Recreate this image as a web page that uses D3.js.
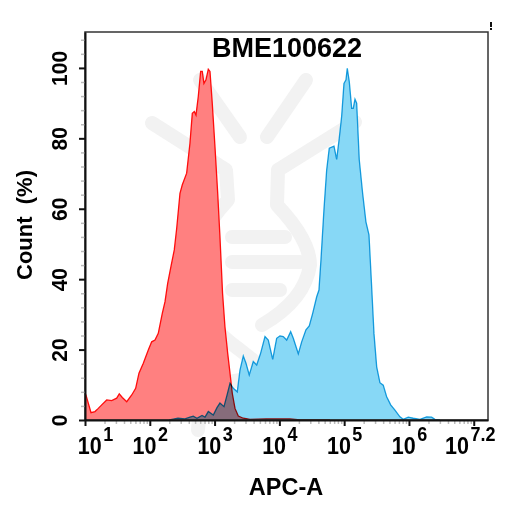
<!DOCTYPE html>
<html>
<head>
<meta charset="utf-8">
<script src="https://cdn.jsdelivr.net/npm/d3@7"></script>
<style>
  html, body { margin: 0; padding: 0; background: #fff; }
  svg { display: block; font-family: "Liberation Sans", Arial, sans-serif; }
</style>
</head>
<body>
<svg id="chart" width="507" height="505"></svg>
<script>
// ---- data (x = log10 of APC-A, y = Count %) ----
const chartTitle = "BME100622";
const xTitle = "APC-A";
const yTitle = "Count  (%)";
const xTickExponents = [1, 2, 3, 4, 5, 6, 7];
const xTickLabels = ["1", "2", "3", "4", "5", "6", "7.2"];
const yTickValues = [0, 20, 40, 60, 80, 100];

const redLogX = [1.0, 1.015, 1.093, 1.154, 1.205, 1.258, 1.335, 1.412, 1.489, 1.529, 1.576, 1.644, 1.721, 1.782,
  1.833, 1.900, 1.977, 2.029, 2.080, 2.131, 2.193, 2.235, 2.276, 2.327, 2.378, 2.415, 2.466, 2.502,
  2.569, 2.620, 2.656, 2.687, 2.713, 2.748, 2.785, 2.810, 2.836, 2.867, 2.903, 2.929, 2.964, 3.006,
  3.048, 3.083, 3.123, 3.160, 3.202, 3.238, 3.273, 3.315, 3.366, 3.443, 3.546, 3.80, 4.16, 4.32, 4.78];
const redCount = [7.5, 7.1, 2.1, 2.4, 3.3, 4.3, 5.7, 5.5, 6.2, 7.4, 6.4, 5.2, 7.1, 9.0,
  13.3, 16.1, 19.9, 22.2, 22.7, 24.6, 30.3, 33.6, 38.8, 43.6, 48.3, 54.4, 64.4, 66.8,
  70.1, 78.6, 87.1, 87.6, 86.6, 91.8, 99.0, 99.0, 95.6, 96.6, 99.6, 99.0, 90.0, 77.6,
  64.4, 52.0, 36.0, 26.5, 19.0, 13.3, 7.6, 3.3, 1.1, 0.5, 0.2, 0.3, 0.3, 0.0, 0.0];

const blueLogX = [2.30, 2.343, 2.435, 2.543, 2.620, 2.671, 2.728, 2.806, 2.852, 2.903, 2.980, 3.037, 3.083,
  3.145, 3.191, 3.238, 3.289, 3.350, 3.392, 3.443, 3.485, 3.535, 3.597, 3.650, 3.711, 3.778,
  3.829, 3.897, 3.958, 4.009, 4.060, 4.113, 4.174, 4.215, 4.292, 4.344, 4.410, 4.461, 4.514,
  4.576, 4.611, 4.642, 4.688, 4.730, 4.770, 4.843, 4.884, 4.924, 4.961, 4.997, 5.028, 5.048,
  5.079, 5.116, 5.140, 5.167, 5.193, 5.233, 5.285, 5.336, 5.383, 5.424, 5.460, 5.502, 5.552,
  5.603, 5.656, 5.718, 5.784, 5.861, 5.912, 5.989, 6.066, 6.170, 6.273, 6.350, 6.401, 6.478];
const blueCount = [0.0, 0.2, 0.5, 0.3, 0.8, 1.1, 0.5, 1.3, 0.8, 2.4, 1.4, 3.5, 4.8,
  3.8, 7.0, 10.4, 9.0, 8.0, 14.2, 18.2, 16.1, 12.8, 16.6, 15.6, 19.0, 23.7,
  22.7, 17.2, 23.2, 23.9, 23.7, 22.7, 25.1, 23.2, 18.8, 22.2, 25.6, 26.7, 30.3,
  35.0, 36.9, 45.5, 59.7, 71.0, 77.2, 77.8, 74.0, 80.0, 86.2, 95.6, 96.6, 99.9,
  96.1, 88.5, 88.5, 91.1, 90.0, 73.9, 64.4, 56.3, 52.6, 37.9, 24.6, 15.1, 10.6,
  9.9, 6.6, 4.3, 2.8, 0.9, 0.2, 0.8, 0.5, 0.2, 0.9, 0.8, 0.2, 0.0];

// ---- layout ----
const svg = d3.select("#chart");
const margin = { left: 85, right: 19, top: 32, bottom: 85 };
const W = 507, H = 505;
const x = d3.scaleLinear().domain([1, 7.22]).range([margin.left, W - margin.right]);
const y = d3.scaleLinear().domain([0, 110.2]).range([H - margin.bottom, margin.top]);

// watermark (faint logo)
const wm = svg.append("g").attr("fill", "none").attr("stroke", "#f2f2f2")
  .attr("stroke-width", 14).attr("stroke-linecap", "round").attr("stroke-linejoin", "round");
const wmPaths = [
  "M200,80 L240,137", "M306,80 L267,137",
  "M152,123 L226,170 L228,200 Q190,240 193,285 Q198,320 240,350 L297,395",
  "M355,122 L278,170 L277,205 Q310,240 310,265 Q305,300 262,325",
  "M232,237 L285,237", "M232,262 L300,262", "M232,290 L280,290",
  "M198,430 Q200,385 240,380 Q262,382 270,395"
];
wm.selectAll("path").data(wmPaths).join("path").attr("d", d => d);

// data areas (multiply blend)
const plotG = svg.append("g").style("isolation", "isolate");
const area = d3.area().x(d => x(d[0])).y0(y(0)).y1(d => y(d[1])).curve(d3.curveLinear);
const line = d3.line().x(d => x(d[0])).y(d => y(d[1])).curve(d3.curveLinear);
const blueData = blueLogX.map((v, i) => [v, blueCount[i]]);
const redData = redLogX.map((v, i) => [v, redCount[i]]);

const series = [
  { data: blueData, fill: "#87d8f6", stroke: "#1aa6e0" },
  { data: redData, fill: "#ff8080", stroke: "#ff1010" }
];
series.forEach(s => {
  plotG.append("path").attr("d", area(s.data)).attr("fill", s.fill)
    .style("mix-blend-mode", "multiply");
});
series.forEach(s => {
  plotG.append("path").attr("d", line(s.data)).attr("fill", "none")
    .attr("stroke", s.stroke).attr("stroke-width", 1.3)
    .style("mix-blend-mode", "multiply");
});

// frame (top/right)
svg.append("rect").attr("x", x(1)).attr("y", y(110.2))
  .attr("width", x(7.22) - x(1)).attr("height", y(0) - y(110.2))
  .attr("fill", "none").attr("stroke", "#333").attr("stroke-width", 1.5);

// minor x ticks
const minorX = [];
for (let n = 1; n <= 7; n++) for (let k = 2; k <= 9; k++) {
  const v = n + Math.log10(k);
  if (v < 7.22) minorX.push(v);
}
const gxMinor = svg.append("g").attr("transform", `translate(0,${y(0)})`)
  .call(d3.axisBottom(x).tickValues(minorX).tickSize(4).tickFormat(""));
gxMinor.select(".domain").remove();
gxMinor.selectAll("line").attr("stroke", "#bbb").attr("stroke-width", 1.5);

// major x axis
const gx = svg.append("g").attr("transform", `translate(0,${y(0)})`)
  .call(d3.axisBottom(x).tickValues(xTickExponents).tickSize(6).tickSizeOuter(0).tickFormat(""));
gx.select(".domain").attr("stroke", "#111").attr("stroke-width", 2);
gx.selectAll(".tick line").attr("stroke", "#111").attr("stroke-width", 2);
const labelShift = [10, 0, 0, 0, 0, 0, -4];
gx.selectAll(".tick").each(function (d, i) {
  const t = d3.select(this).append("text")
    .attr("transform", `translate(${labelShift[i]},34) scale(1,1.13)`)
    .attr("text-anchor", "middle").attr("fill", "#000")
    .attr("font-weight", "bold").attr("font-size", 21.5);
  t.append("tspan").text("10");
  t.append("tspan").attr("dy", -11.5).attr("dx", 1.5).attr("font-size", 18).text(xTickLabels[i]);
});

// minor y ticks
const minorY = d3.range(4, 110, 4).filter(v => v % 20 !== 0);
const gyMinor = svg.append("g").attr("transform", `translate(${x(1)},0)`)
  .call(d3.axisLeft(y).tickValues(minorY).tickSize(4).tickFormat(""));
gyMinor.select(".domain").remove();
gyMinor.selectAll("line").attr("stroke", "#bbb").attr("stroke-width", 1.5);

// major y axis
const gy = svg.append("g").attr("transform", `translate(${x(1)},0)`)
  .call(d3.axisLeft(y).tickValues(yTickValues).tickSize(6).tickSizeOuter(0).tickFormat(""));
gy.select(".domain").attr("stroke", "#111").attr("stroke-width", 2);
gy.selectAll(".tick line").attr("stroke", "#111").attr("stroke-width", 2);
gy.selectAll(".tick").append("text")
  .attr("transform", "translate(-18,0) rotate(-90) scale(1,1.05)")
  .attr("text-anchor", "middle").attr("fill", "#000")
  .attr("font-weight", "bold").attr("font-size", 21)
  .text(d => d);

// titles
svg.append("text").attr("x", 287).attr("y", 57).attr("text-anchor", "middle")
  .attr("font-weight", "bold").attr("font-size", 27).attr("fill", "#000").text(chartTitle);
svg.append("text").attr("transform", "translate(286,495) scale(1,1.05)").attr("text-anchor", "middle")
  .attr("font-weight", "bold").attr("font-size", 23.5).attr("fill", "#000").text(xTitle);
svg.append("text").attr("transform", "translate(32,225) rotate(-90)")
  .attr("text-anchor", "middle").style("white-space", "pre")
  .attr("font-weight", "bold").attr("font-size", 22).attr("fill", "#000").text(yTitle);

// small mark at top right
svg.append("rect").attr("x", 490).attr("y", 22).attr("width", 2).attr("height", 5).attr("fill", "#111");
svg.append("rect").attr("x", 490).attr("y", 28).attr("width", 2).attr("height", 2).attr("fill", "#111");
</script>
</body>
</html>
